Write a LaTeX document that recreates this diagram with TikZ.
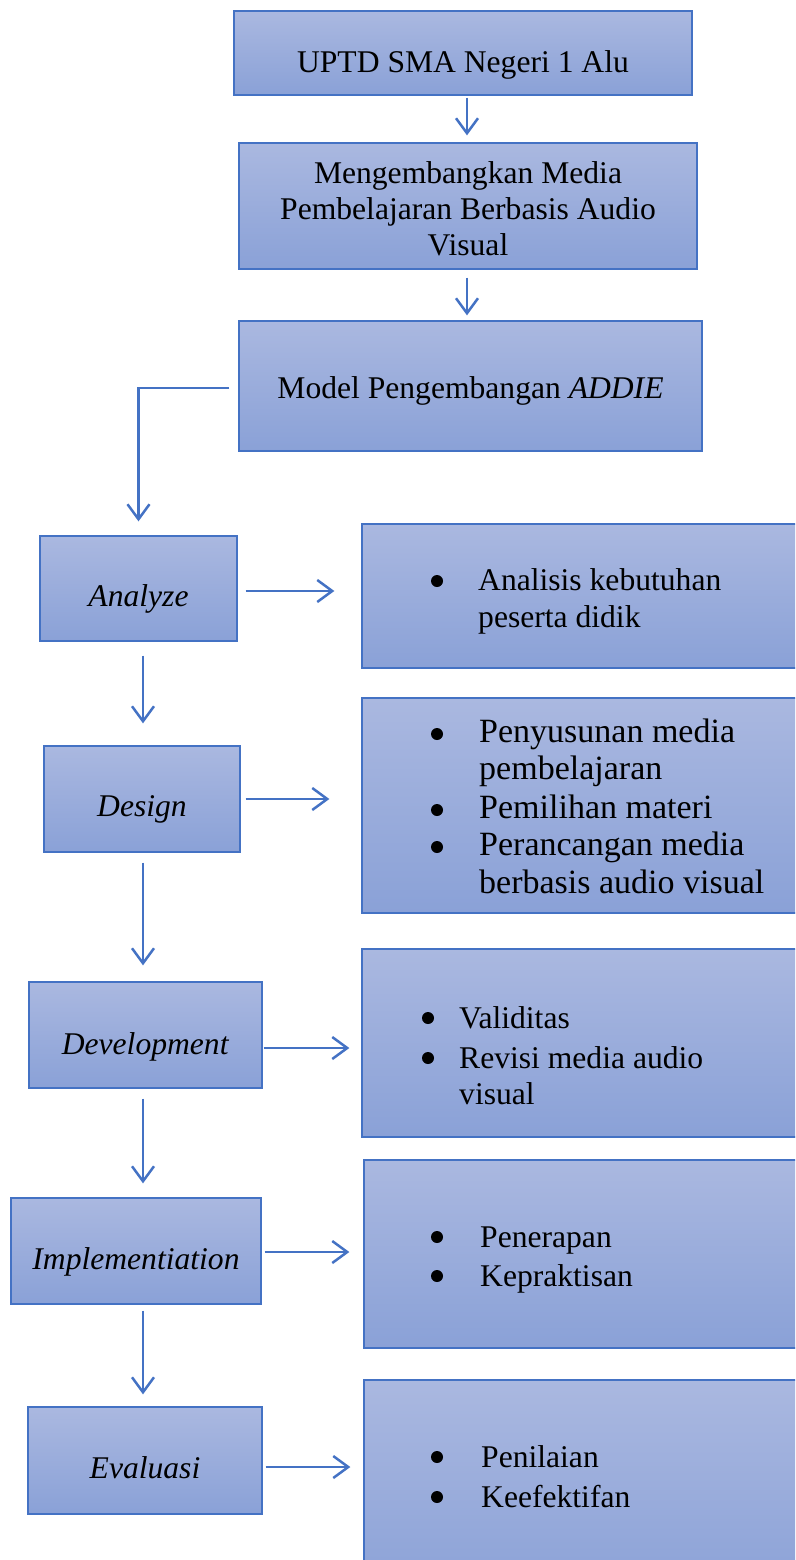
\documentclass[tikz,border=0pt]{standalone}
\usepackage{fontspec}
\setmainfont{Liberation Serif}
\usetikzlibrary{arrows.meta}
\definecolor{edgec}{HTML}{4472C4}
\definecolor{topc}{HTML}{AAB8E0}
\definecolor{botc}{HTML}{8AA1D7}
\tikzset{
  box/.style={draw=edgec, line width=1.3pt, top color=topc, bottom color=botc, inner sep=0pt},
  lbl/.style={anchor=base, inner sep=0pt, font=\fontsize{31.6}{36}\selectfont, text=black},
  conn/.style={draw=edgec, line width=2.5pt, -{Straight Barb[length=15pt,width=22pt]}},
  itemtxt/.style={anchor=base west, inner sep=0pt, font=\fontsize{31.6}{36}\selectfont},
  bigitem/.style={itemtxt, font=\fontsize{34}{38}\selectfont},
  dot/.style={circle, fill=black, inner sep=0pt, minimum size=12pt},
}
\begin{document}
\begin{tikzpicture}[x=1pt,y=-1pt]
\useasboundingbox (0,0) rectangle (795,1560);
\clip (0,0) rectangle (795,1560);
% top chain
\node[box, minimum width=458pt, minimum height=84pt] (b1) at (463,53) {};
\node[lbl] (b1t) at (463,73) {UPTD SMA Negeri 1 Alu};
\node[box, minimum width=458pt, minimum height=126pt] (b2) at (468,206) {};
\node[lbl] (b2a) at (468,183) {Mengembangkan Media};
\node[lbl] (b2b) at (468,219) {Pembelajaran Berbasis Audio};
\node[lbl] (b2c) at (468,255) {Visual};
\node[box, minimum width=463pt, minimum height=130pt] (b3) at (470.5,386) {};
\node[lbl] (b3t) at (470.5,398) {Model Pengembangan \textit{ADDIE}};
\coordinate (tx) at (467,0);
\draw[conn, shorten <=2pt, shorten >=7pt] (b1.south -| tx) -- (b2.north -| tx);
\draw[conn, shorten <=8pt, shorten >=5pt] (b2.south -| tx) -- (b3.north -| tx);
% left column
\node[box, minimum width=197pt, minimum height=105pt] (an) at (138.5,588.5) {};
\node[lbl] (ant) at (138.5,606) {\textit{Analyze}};
\node[box, minimum width=196pt, minimum height=106pt] (de) at (142,799) {};
\node[lbl] (det) at (142,816) {\textit{Design}};
\node[box, minimum width=233pt, minimum height=106pt] (dv) at (145.5,1035) {};
\node[lbl] (dvt) at (145.5,1054) {\textit{Development}};
\node[box, minimum width=250pt, minimum height=106pt] (im) at (136,1251) {};
\node[lbl] (imt) at (136,1269) {\textit{Implementiation}};
\node[box, minimum width=234pt, minimum height=107pt] (ev) at (145,1460.5) {};
\node[lbl] (evt) at (145,1478) {\textit{Evaluasi}};
\draw[conn, shorten >=14pt] ([xshift=-9pt, yshift=-2pt]b3.west) -| (an.north);
\coordinate (ax) at (143,0);
\draw[conn, shorten <=14pt, shorten >=22pt] (an.south -| ax) -- (de.north -| ax);
\draw[conn, shorten <=10pt, shorten >=16pt] (de.south -| ax) -- (dv.north -| ax);
\draw[conn, shorten <=10pt, shorten >=14pt] (dv.south -| ax) -- (im.north -| ax);
\draw[conn, shorten <=6pt, shorten >=12pt] (im.south -| ax) -- (ev.north -| ax);
% right column
\node[box, minimum width=443pt, minimum height=144pt] (r1) at (583.5,596) {};
\node[box, minimum width=443pt, minimum height=215pt] (r2) at (583.5,805.5) {};
\node[box, minimum width=443pt, minimum height=188pt] (r3) at (583.5,1043) {};
\node[box, minimum width=441pt, minimum height=188pt] (r4) at (584.5,1254) {};
\node[box, minimum width=441pt, minimum height=220pt] (r5) at (584.5,1490) {};
\draw[conn, shorten <=8pt, shorten >=27pt] ([yshift=-2.5pt]an.east) -- ([yshift=-2.5pt]an.east -| r1.west);
\draw[conn, shorten <=5pt, shorten >=32pt] (de.east) -- (de.east -| r2.west);
\draw[conn, shorten <=1pt, shorten >=12pt] ([yshift=-13pt]dv.east) -- ([yshift=-13pt]dv.east -| r3.west);
\draw[conn, shorten <=3pt, shorten >=14pt] ([yshift=-1pt]im.east) -- ([yshift=-1pt]im.east -| r4.west);
\draw[conn, shorten <=3pt, shorten >=13pt] ([yshift=-6.5pt]ev.east) -- ([yshift=-6.5pt]ev.east -| r5.west);
% bullet items
\node[dot] (d11) at (437,581) {};
\node[itemtxt] (t11) at (478,590) {Analisis kebutuhan};
\node[itemtxt] (t12) at (478,627) {peserta didik};
\node[dot] (d21) at (437,734) {};
\node[bigitem] (t21) at (479,742) {Penyusunan media};
\node[bigitem] (t22) at (479,779) {pembelajaran};
\node[dot] (d22) at (437,810) {};
\node[bigitem] (t23) at (479,818) {Pemilihan materi};
\node[dot] (d23) at (437,847) {};
\node[bigitem] (t24) at (479,855) {Perancangan media};
\node[bigitem] (t25) at (479,893) {berbasis audio visual};
\node[dot] (d31) at (428,1018) {};
\node[itemtxt] (t31) at (459,1028) {Validitas};
\node[dot] (d32) at (428,1058) {};
\node[itemtxt] (t32) at (459,1068) {Revisi media audio};
\node[itemtxt] (t33) at (459,1104) {visual};
\node[dot] (d41) at (437,1237) {};
\node[itemtxt] (t41) at (480,1247) {Penerapan};
\node[dot] (d42) at (437,1276) {};
\node[itemtxt] (t42) at (480,1286) {Kepraktisan};
\node[dot] (d51) at (437,1457) {};
\node[itemtxt] (t51) at (481,1467) {Penilaian};
\node[dot] (d52) at (437,1497) {};
\node[itemtxt] (t52) at (481,1507) {Keefektifan};
\end{tikzpicture}
\end{document}
